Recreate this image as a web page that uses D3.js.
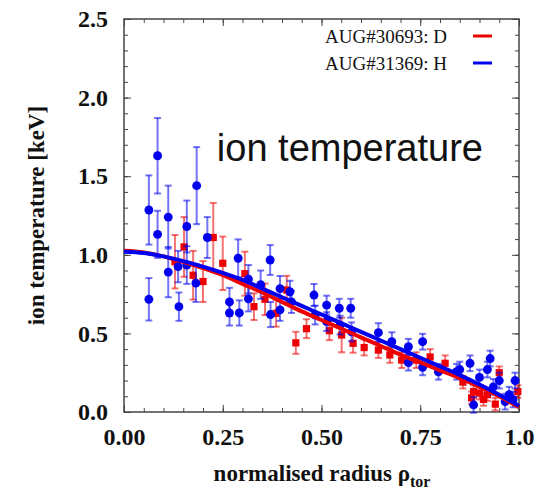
<!DOCTYPE html>
<html>
<head>
<meta charset="utf-8">
<script src="https://cdn.jsdelivr.net/npm/d3@7"></script>
<style>
  body { margin: 0; background: #fff; }
  svg { display: block; }
</style>
</head>
<body>
<svg width="539" height="494"></svg>
<script>
// ---- data ----
// deuterium shot (red squares)
const redX   = [0.129, 0.152, 0.175, 0.200, 0.226, 0.250, 0.306, 0.329, 0.357, 0.385, 0.412, 0.435, 0.462, 0.520, 0.551, 0.580, 0.608, 0.644, 0.673, 0.703, 0.740, 0.775, 0.813, 0.858, 0.880, 0.885, 0.900, 0.910, 0.920, 0.950, 0.997, 0.940];
const redY   = [0.956, 1.050, 0.870, 0.830, 1.110, 0.946, 0.880, 0.670, 0.717, 0.628, 0.776, 0.440, 0.530, 0.517, 0.490, 0.437, 0.410, 0.394, 0.363, 0.330, 0.330, 0.350, 0.310, 0.190, 0.090, 0.130, 0.120, 0.080, 0.110, 0.250, 0.130, 0.050];
const redErr = [0.170, 0.190, 0.155, 0.130, 0.220, 0.170, 0.140, 0.085, 0.100, 0.085, 0.090, 0.070, 0.060, 0.060, 0.110, 0.060, 0.050, 0.050, 0.050, 0.050, 0.050, 0.050, 0.050, 0.040, 0.040, 0.040, 0.040, 0.040, 0.040, 0.040, 0.040, 0.040];

// hydrogen shot (blue circles)
const blueX   = [0.063, 0.085, 0.085, 0.112, 0.112, 0.063, 0.137, 0.139, 0.159, 0.159, 0.184, 0.182, 0.211, 0.267, 0.267, 0.292, 0.289, 0.370, 0.315, 0.315, 0.346, 0.371, 0.395, 0.395, 0.420, 0.424, 0.481, 0.513, 0.545, 0.574, 0.484, 0.513, 0.547, 0.576, 0.644, 0.678, 0.720, 0.756, 0.720, 0.756, 0.796, 0.842, 0.850, 0.876, 0.885, 0.900, 0.920, 0.927, 0.935, 0.950, 0.965, 0.975, 0.990, 0.985];
const blueY   = [1.285, 1.630, 1.130, 1.240, 0.890, 0.717, 0.925, 0.670, 1.180, 0.935, 1.440, 0.820, 1.110, 0.700, 0.630, 0.630, 0.978, 0.967, 0.845, 0.720, 0.810, 0.620, 0.785, 0.650, 0.765, 0.700, 0.744, 0.680, 0.660, 0.660, 0.617, 0.575, 0.553, 0.510, 0.505, 0.447, 0.415, 0.447, 0.314, 0.284, 0.256, 0.256, 0.270, 0.310, 0.045, 0.220, 0.270, 0.340, 0.160, 0.200, 0.066, 0.110, 0.200, 0.080];
const blueErr = [0.220, 0.240, 0.150, 0.200, 0.160, 0.135, 0.100, 0.090, 0.165, 0.120, 0.245, 0.120, 0.130, 0.090, 0.080, 0.080, 0.120, 0.095, 0.090, 0.080, 0.090, 0.080, 0.080, 0.070, 0.070, 0.070, 0.070, 0.060, 0.060, 0.060, 0.060, 0.060, 0.060, 0.060, 0.060, 0.060, 0.050, 0.050, 0.050, 0.050, 0.050, 0.050, 0.050, 0.050, 0.050, 0.050, 0.050, 0.050, 0.050, 0.050, 0.050, 0.050, 0.050, 0.050];

// fitted profiles
const fitX    = [0, 0.05, 0.10, 0.15, 0.20, 0.25, 0.30, 0.35, 0.40, 0.45, 0.50, 0.55, 0.60, 0.65, 0.70, 0.75, 0.80, 0.85, 0.90, 0.95, 1.00];
const fitRed  = [1.025, 1.015, 0.990, 0.955, 0.915, 0.870, 0.815, 0.760, 0.700, 0.640, 0.585, 0.530, 0.475, 0.420, 0.365, 0.315, 0.265, 0.215, 0.160, 0.100, 0.030];
const fitBlue = [1.020, 1.012, 0.990, 0.960, 0.925, 0.885, 0.840, 0.785, 0.730, 0.675, 0.620, 0.565, 0.510, 0.455, 0.400, 0.345, 0.290, 0.235, 0.175, 0.110, 0.040];

const xTickVals   = [0, 0.25, 0.5, 0.75, 1.0];
const xTickLabels = ["0.00", "0.25", "0.50", "0.75", "1.0"];
const yTickVals   = [0, 0.5, 1.0, 1.5, 2.0, 2.5];
const yTickLabels = ["0.0", "0.5", "1.0", "1.5", "2.0", "2.5"];
const legendLabels = ["AUG#30693: D", "AUG#31369: H"];

const RED = "#ee0000", BLUE = "#0000ee";

const svg = d3.select("svg");
const margin = { left: 124, right: 20, top: 19, bottom: 82 };
const width = +svg.attr("width") - margin.left - margin.right;
const height = +svg.attr("height") - margin.top - margin.bottom;

const g = svg.append("g").attr("transform", `translate(${margin.left},${margin.top})`);

const x = d3.scaleLinear().domain([0, 1]).range([0, width]);
const y = d3.scaleLinear().domain([0, 2.5]).range([height, 0]);

// ticks on all four sides, pointing inward
function ticks(axisFn, scale, vals, size, transform) {
  const a = g.append("g")
    .attr("transform", transform)
    .call(axisFn(scale).tickValues(vals).tickSize(size).tickFormat(""));
  a.select(".domain").remove();
  a.selectAll("line").attr("stroke", "#444").attr("stroke-width", 1);
}
const xMinor = d3.range(0, 1.0001, 0.05);
const yMinor = d3.range(0, 2.5001, 0.1);
ticks(d3.axisTop, x, xMinor, 4, `translate(0,${height})`);
ticks(d3.axisTop, x, xTickVals, 7, `translate(0,${height})`);
ticks(d3.axisBottom, x, xMinor, 4, "translate(0,0)");
ticks(d3.axisBottom, x, xTickVals, 7, "translate(0,0)");
ticks(d3.axisRight, y, yMinor, 4, "translate(0,0)");
ticks(d3.axisRight, y, yTickVals, 7, "translate(0,0)");
ticks(d3.axisLeft, y, yMinor, 4, `translate(${width},0)`);
ticks(d3.axisLeft, y, yTickVals, 7, `translate(${width},0)`);

// tick labels
const xAxis = g.append("g")
  .attr("transform", `translate(0,${height})`)
  .call(d3.axisBottom(x).tickValues(xTickVals).tickSize(0).tickPadding(16)
    .tickFormat((d, i) => xTickLabels[i]));
xAxis.select(".domain").remove();
xAxis.selectAll("text")
  .attr("font-family", "Liberation Serif, Times New Roman, serif")
  .attr("font-weight", "bold").attr("font-size", 24).attr("fill", "#111");

const yAxis = g.append("g")
  .call(d3.axisLeft(y).tickValues(yTickVals).tickSize(0).tickPadding(16)
    .tickFormat((d, i) => yTickLabels[i]));
yAxis.select(".domain").remove();
yAxis.selectAll("text")
  .attr("font-family", "Liberation Serif, Times New Roman, serif")
  .attr("font-weight", "bold").attr("font-size", 24).attr("fill", "#111");

// frame
g.append("rect")
  .attr("width", width).attr("height", height)
  .attr("fill", "none").attr("stroke", "#444").attr("stroke-width", 1.5);

// scatter with error bars
function series(xs, ys, es, color, shape) {
  const data = xs.map((v, i) => ({ x: v, y: ys[i], e: es[i] }));
  const eg = g.append("g").attr("stroke", color).attr("stroke-opacity", 0.55).attr("stroke-width", 2);
  eg.selectAll("line.bar").data(data).join("line")
    .attr("x1", d => x(d.x)).attr("x2", d => x(d.x))
    .attr("y1", d => y(d.y - d.e)).attr("y2", d => y(d.y + d.e));
  eg.selectAll("line.top").data(data).join("line")
    .attr("x1", d => x(d.x) - 3.5).attr("x2", d => x(d.x) + 3.5)
    .attr("y1", d => y(d.y + d.e)).attr("y2", d => y(d.y + d.e));
  eg.selectAll("line.bot").data(data).join("line")
    .attr("x1", d => x(d.x) - 3.5).attr("x2", d => x(d.x) + 3.5)
    .attr("y1", d => y(d.y - d.e)).attr("y2", d => y(d.y - d.e));
  g.append("g").selectAll("path").data(data).join("path")
    .attr("transform", d => `translate(${x(d.x)},${y(d.y)})`)
    .attr("d", d3.symbol().type(shape).size(shape === d3.symbolSquare ? 52 : 62))
    .attr("fill", color);
}
series(redX, redY, redErr, RED, d3.symbolSquare);
series(blueX, blueY, blueErr, BLUE, d3.symbolCircle);

// fit curves
const line = d3.line().curve(d3.curveMonotoneX).x(d => x(d[0])).y(d => y(d[1]));
g.append("path").datum(fitX.map((v, i) => [v, fitRed[i]]))
  .attr("d", line).attr("fill", "none").attr("stroke", RED).attr("stroke-width", 4);
g.append("path").datum(fitX.map((v, i) => [v, fitBlue[i]]))
  .attr("d", line).attr("fill", "none").attr("stroke", BLUE).attr("stroke-width", 4);

// legend
const legend = g.append("g").attr("transform", `translate(${width - 46},17)`);
legendLabels.forEach((t, i) => {
  const row = legend.append("g").attr("transform", `translate(0,${i * 27})`);
  row.append("text").attr("x", -26).attr("y", 0).attr("dy", "0.35em")
    .attr("text-anchor", "end")
    .attr("font-family", "Liberation Serif, Times New Roman, serif")
    .attr("font-size", 19).attr("fill", "#111").text(t);
  row.append("line").attr("x1", 0).attr("x2", 19).attr("y1", 0).attr("y2", 0)
    .attr("stroke", i === 0 ? RED : BLUE).attr("stroke-width", 3);
});

// annotation
g.append("text")
  .attr("x", x(0.235)).attr("y", y(1.595))
  .attr("font-family", "Liberation Sans, Arial, sans-serif")
  .attr("font-size", 38).attr("fill", "#111")
  .text("ion temperature");

// axis titles
svg.append("text")
  .attr("transform", `translate(44,${margin.top + y(1.25)}) rotate(-90)`)
  .attr("text-anchor", "middle")
  .attr("font-family", "Liberation Serif, Times New Roman, serif")
  .attr("font-weight", "bold").attr("font-size", 23).attr("fill", "#111")
  .text("ion temperature [keV]");

const xt = svg.append("text")
  .attr("x", 322).attr("y", 481)
  .attr("text-anchor", "middle")
  .attr("font-family", "Liberation Serif, Times New Roman, serif")
  .attr("font-weight", "bold").attr("font-size", 23).attr("fill", "#111");
xt.append("tspan").text("normalised radius ρ");
xt.append("tspan").attr("font-size", 16).attr("dy", 6).text("tor");
</script>
</body>
</html>
